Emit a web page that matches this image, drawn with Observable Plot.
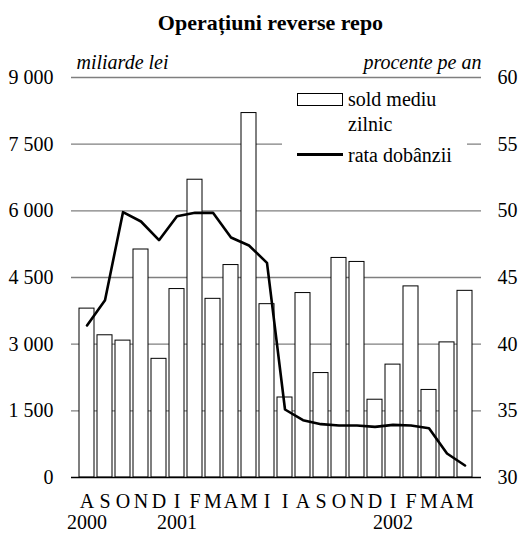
<!DOCTYPE html>
<html><head><meta charset="utf-8">
<script src="https://cdn.jsdelivr.net/npm/d3@7"></script>
<script src="https://cdn.jsdelivr.net/npm/@observablehq/plot@0.6"></script>
<style>
body{margin:0;background:#fff;font-family:"Liberation Serif","Times New Roman",serif;color:#000;}
#wrap{position:relative;width:519px;height:537px;overflow:hidden;}
#title{position:absolute;left:11px;top:11px;width:519px;text-align:center;font-weight:bold;font-size:22px;line-height:24px;}
#chart{position:absolute;left:0;top:40px;}
#legend{position:absolute;left:282px;top:85px;width:185px;height:86px;background:#fff;font-size:20px;}
.lg{position:absolute;white-space:nowrap;line-height:20px;}
</style></head><body>
<div id="wrap">
<div id="title">Operațiuni reverse repo</div>
<div id="chart"></div>
<div id="legend">
  <div style="position:absolute;left:15px;top:8px;width:44px;height:11px;border:1px solid #000;background:#fff;"></div>
  <div class="lg" style="left:66px;top:4px;">sold mediu</div>
  <div class="lg" style="left:66px;top:29px;">zilnic</div>
  <div style="position:absolute;left:15px;top:68px;width:46px;height:3px;background:#000;"></div>
  <div class="lg" style="left:66px;top:60px;">rata dobânzii</div>
</div>
</div>
<script>
const months = ["A","S","O","N","D","I","F","M","A","M","I","I","A","S","O","N","D","I","F","M","A","M"];
const yearLabels = ["2000","2001","2002"];
const yearIndex = [0,5,17];
const sold = [3800,3200,3080,5130,2670,4240,6700,4020,4780,8200,3900,1800,4150,2350,4940,4850,1750,2540,4300,1970,3040,4200];
const rata = [41.4,43.3,49.9,49.2,47.8,49.6,49.85,49.85,48.0,47.4,46.1,35.1,34.3,34.0,33.9,33.9,33.8,33.95,33.9,33.7,31.8,30.9];
const leftTicks = [0,1500,3000,4500,6000,7500,9000];
const rightMin = 30, rightMax = 60, leftMax = 9000;
const toLeft = r => (r - rightMin) * leftMax / (rightMax - rightMin);
const toRight = v => v * (rightMax - rightMin) / leftMax + rightMin;

const idx = d3.range(months.length);
const years = yearIndex.map((i, k) => ({i, label: yearLabels[k]}));

const chart = Plot.plot({
  width: 519,
  height: 497,
  marginTop: 37,
  marginBottom: 60,
  marginLeft: 71,
  marginRight: 38,
  style: {fontFamily: "'Liberation Serif','Times New Roman',serif", background: "transparent", color: "#000"},
  x: {type: "band", domain: idx, paddingInner: 0.16, paddingOuter: 0.08},
  y: {domain: [0, leftMax]},
  marks: [
    Plot.ruleY(leftTicks.slice(1), {stroke: "#7f7f7f", strokeWidth: 1.3}),
    Plot.barY(sold, {x: (d, i) => i, y: d => d, fill: "#fff", stroke: "#000", strokeWidth: 1}),
    Plot.ruleY([0], {stroke: "#000", strokeWidth: 1.3}),
    Plot.line(rata, {x: (d, i) => i, y: d => toLeft(d), stroke: "#000", strokeWidth: 2.6}),
    Plot.axisY(leftTicks, {anchor: "left", tickSize: 0, tickPadding: 18, fontSize: 20,
      tickFormat: d => d3.format(",")(d).replace(/,/g, " "), label: null}),
    Plot.axisY(leftTicks, {anchor: "right", tickSize: 0, tickPadding: 16, fontSize: 20,
      tickFormat: d => String(Math.round(toRight(d))), label: null}),
    Plot.axisX(idx, {anchor: "bottom", tickSize: 0, tickPadding: 16, fontSize: 20,
      tickFormat: i => months[i], label: null}),
    Plot.text(years, {x: "i", y: 0, text: "label", dy: 45, fontSize: 20}),
    Plot.text(["miliarde lei"], {frameAnchor: "top-left", dx: 5, dy: -9, lineAnchor: "bottom", textAnchor: "start", fontSize: 20, fontStyle: "italic"}),
    Plot.text(["procente pe an"], {frameAnchor: "top-right", dx: 0, dy: -9, lineAnchor: "bottom", textAnchor: "end", fontSize: 20, fontStyle: "italic"})
  ]
});
document.getElementById("chart").appendChild(chart);
</script>
</body></html>
